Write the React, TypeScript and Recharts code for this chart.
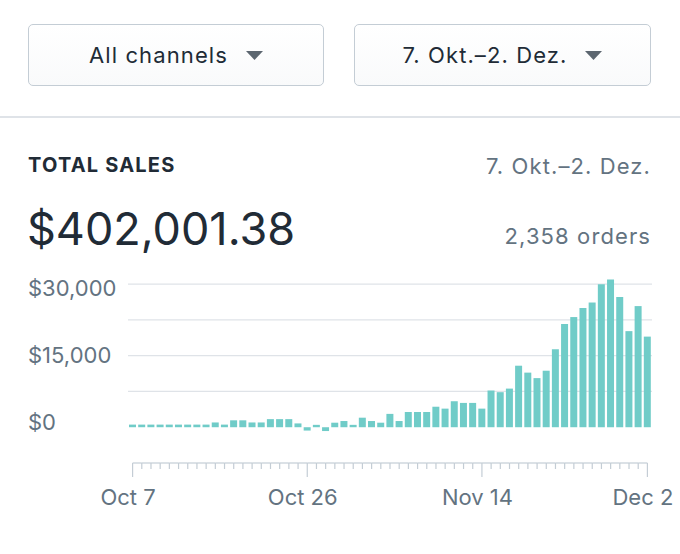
import React from 'react';
import { BarChart, Bar, XAxis, YAxis, CartesianGrid } from 'recharts';

const DAYS = [
  'Oct 7', 'Oct 8', 'Oct 9', 'Oct 10', 'Oct 11', 'Oct 12', 'Oct 13', 'Oct 14', 'Oct 15', 'Oct 16',
  'Oct 17', 'Oct 18', 'Oct 19', 'Oct 20', 'Oct 21', 'Oct 22', 'Oct 23', 'Oct 24', 'Oct 25', 'Oct 26',
  'Oct 27', 'Oct 28', 'Oct 29', 'Oct 30', 'Oct 31', 'Nov 1', 'Nov 2', 'Nov 3', 'Nov 4', 'Nov 5',
  'Nov 6', 'Nov 7', 'Nov 8', 'Nov 9', 'Nov 10', 'Nov 11', 'Nov 12', 'Nov 13', 'Nov 14', 'Nov 15',
  'Nov 16', 'Nov 17', 'Nov 18', 'Nov 19', 'Nov 20', 'Nov 21', 'Nov 22', 'Nov 23', 'Nov 24', 'Nov 25',
  'Nov 26', 'Nov 27', 'Nov 28', 'Nov 29', 'Nov 30', 'Dec 1', 'Dec 2',
];

const SALES = [
  550, 550, 550, 550, 550, 550, 550, 550, 550, 1000,
  550, 1450, 1450, 1000, 1000, 1700, 1700, 1700, 800, -700,
  500, -800, 950, 1300, 500, 2000, 1300, 950, 2800, 1300,
  3200, 3200, 3200, 4300, 3900, 5450, 5100, 5100, 3900, 7700,
  7350, 8100, 12900, 11450, 10300, 11850, 16350, 21650, 23100, 25000,
  26150, 30000, 31000, 27300, 20150, 25400, 19000,
];

const TICK_LABELS = ['Oct 7', 'Oct 26', 'Nov 14', 'Dec 2'];
const Y_TICKS = [0, 15000, 30000];
const GRID_VALUES = [7500, 15000, 22500, 30000];

const data = DAYS.map((day, i) => ({ day, sales: SALES[i] }));

const FONT = "Inter, 'Noto Sans', sans-serif";
const GRAY = '#637381';
const DARK = '#212b36';
const AXIS = '#c4cdd5';

const CHART_W = 680;
const PLOT_LEFT = 128;
const PLOT_RIGHT = 28;
const STEP = (CHART_W - PLOT_LEFT - PLOT_RIGHT) / DAYS.length;

const money = (v: number) => '$' + v.toLocaleString('en-US');

const YTick = (props: any) => {
  const { y, payload, index } = props;
  return (
    <text x={28} y={y - 5 + 4.5 * index} dy="0.35em" textAnchor="start" fill={GRAY} fontSize={22} fontFamily={FONT}>
      {money(payload.value)}
    </text>
  );
};

const XTick = (props: any) => {
  const { x, y, payload, index } = props;
  const major = TICK_LABELS.includes(payload.value);
  return (
    <g>
      {index < DAYS.length - 1 && <line x1={x} x2={x + STEP} y1={y} y2={y} stroke={AXIS} strokeWidth={1.2} />}
      <line x1={x} x2={x} y1={y} y2={y + (major ? 14 : 6)} stroke={AXIS} strokeWidth={1.2} />
      {major && (
        <text x={x - 4.5} y={y + 34} dy="0.35em" textAnchor="middle" fill={GRAY} fontSize={22} fontFamily={FONT}>
          {payload.value}
        </text>
      )}
    </g>
  );
};

const Caret = () => (
  <svg width={17} height={9} style={{ marginLeft: 18 }}>
    <polygon points="0,0 17,0 8.5,9" fill="#5c6670" />
  </svg>
);

const Select = ({ left, width, label }: { left: number; width: number; label: string }) => (
  <div
    style={{
      position: 'absolute', left, top: 24, width, height: 62, boxSizing: 'border-box',
      border: '1.5px solid ' + AXIS, borderRadius: 5,
      background: 'linear-gradient(#ffffff, #f9fafb)',
      display: 'flex', alignItems: 'center', justifyContent: 'center',
      fontSize: 22, letterSpacing: 1.1, color: DARK,
    }}
  >
    <span>{label}</span>
    <Caret />
  </div>
);

const line = (top: number, h: number): React.CSSProperties => ({
  position: 'absolute', top: top - h / 2, height: h, lineHeight: h + 'px', whiteSpace: 'nowrap',
});

export default function App() {
  return (
    <div style={{ position: 'absolute', left: 0, top: 0, width: 680, height: 554, background: '#fff', fontFamily: FONT, overflow: 'hidden' }}>
      <BarChart
        width={CHART_W}
        height={554}
        data={data}
        margin={{ top: 277, right: PLOT_RIGHT, bottom: 31, left: 0 }}
        style={{ position: 'absolute', left: 0, top: 0 }}
      >
        <CartesianGrid vertical={false} horizontalValues={GRID_VALUES} stroke="#dfe3e8" strokeWidth={1.2} />
        <XAxis
          dataKey="day"
          interval={0}
          tickSize={0}
          tickMargin={0}
          axisLine={false}
          tickLine={false}
          height={60}
          tick={<XTick />}
        />
        <YAxis
          type="number"
          domain={[-7500, 31500]}
          ticks={Y_TICKS}
          width={PLOT_LEFT}
          axisLine={false}
          tickLine={false}
          tick={<YTick />}
        />
        <Bar dataKey="sales" fill="#70ccc8" barSize={7} isAnimationActive={false} />
      </BarChart>

      <Select left={28} width={296} label="All channels" />
      <Select left={354} width={297} label="7. Okt.–2. Dez." />
      <div style={{ position: 'absolute', left: 0, top: 116, width: 680, height: 1.5, background: '#dfe3e8' }} />

      <div style={{ ...line(165, 26), left: 28, fontSize: 20, fontWeight: 700, letterSpacing: 1.2, color: DARK }}>TOTAL SALES</div>
      <div style={{ ...line(166, 28), right: 29, fontSize: 22, letterSpacing: 1.1, color: GRAY }}>7. Okt.–2. Dez.</div>
      <div style={{ ...line(229, 56), left: 27, fontSize: 45, color: DARK }}>$402,001.38</div>
      <div style={{ ...line(236, 28), right: 29, fontSize: 22, letterSpacing: 1.1, color: GRAY }}>2,358 orders</div>
    </div>
  );
}
